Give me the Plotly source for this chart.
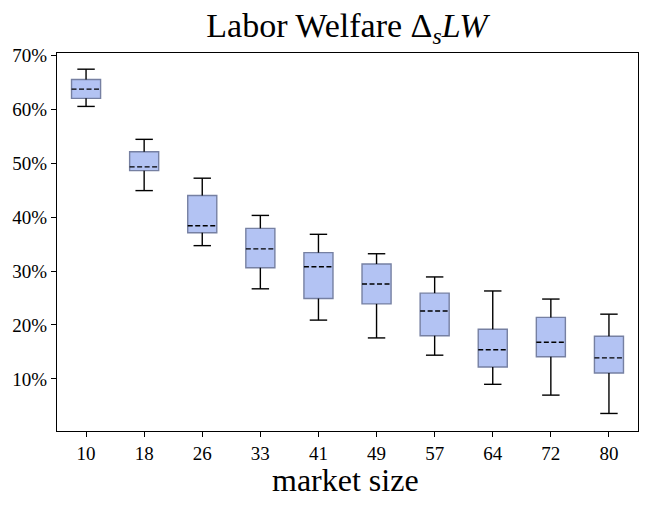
import plotly.graph_objects as go

# ---- data, values in percent ----
market_size = ["10", "18", "26", "33", "41", "49", "57", "64", "72", "80"]
upper_whisker = [67.4, 54.4, 47.2, 40.3, 36.8, 33.2, 28.9, 26.3, 24.8, 22.0]
q3_values = [65.5, 52.1, 44.0, 37.9, 33.4, 31.3, 25.9, 19.2, 21.4, 17.9]
median_values = [63.7, 49.3, 38.4, 34.1, 30.8, 27.6, 22.6, 15.4, 16.8, 13.9]
q1_values = [62.0, 48.6, 37.1, 30.6, 24.9, 23.9, 18.0, 12.2, 14.1, 11.1]
lower_whisker = [60.5, 44.9, 34.7, 26.7, 20.9, 17.6, 14.4, 9.0, 7.0, 3.6]
y_ticks = [10, 20, 30, 40, 50, 60, 70]
y_tick_labels = [f"{v}%" for v in y_ticks]

# ---- style ----
FONT = "Liberation Serif"
FILL = "rgb(179,195,243)"
EDGE = "rgb(118,128,162)"
BOX_WIDTH = 0.5
CAP_HALF = 0.15

pos = list(range(1, len(market_size) + 1))

fig = go.Figure()

# boxes: interquartile range drawn as floating bars
fig.add_trace(go.Bar(
    x=pos, y=[b - a for a, b in zip(q1_values, q3_values)], base=q1_values,
    width=BOX_WIDTH,
    marker=dict(color=FILL, line=dict(color=EDGE, width=1.4)),
    showlegend=False, hoverinfo="skip",
))

# whiskers and caps
wx, wy = [], []
for p, lo, a, b, hi in zip(pos, lower_whisker, q1_values, q3_values, upper_whisker):
    wx += [p, p, None, p - CAP_HALF, p + CAP_HALF, None]
    wy += [b, hi, None, hi, hi, None]
    wx += [p, p, None, p - CAP_HALF, p + CAP_HALF, None]
    wy += [a, lo, None, lo, lo, None]
fig.add_trace(go.Scatter(x=wx, y=wy, mode="lines",
                         line=dict(color="black", width=1.4),
                         showlegend=False, hoverinfo="skip"))

# dashed medians
mx, my = [], []
for p, m in zip(pos, median_values):
    mx += [p - BOX_WIDTH / 2, p + BOX_WIDTH / 2, None]
    my += [m, m, None]
fig.add_trace(go.Scatter(x=mx, y=my, mode="lines",
                         line=dict(color="black", width=1.4, dash="5px,2.5px"),
                         showlegend=False, hoverinfo="skip"))

# page body has an 8px default margin; size the figure so it fits the window
fig.update_layout(
    width=632, height=489,
    margin=dict(l=49, r=2, t=45, b=66),
    paper_bgcolor="white", plot_bgcolor="white",
    font=dict(family=FONT, color="black", size=19),
    title=dict(
        text="Labor Welfare Δ<sub><i>s</i></sub><i>LW</i>",
        x=0.5364, xanchor="center", y=0.965, yanchor="middle",
        yref="container", font=dict(family=FONT, size=34, color="black"),
    ),
    xaxis=dict(
        range=[0.5, len(market_size) + 0.5],
        tickmode="array", tickvals=pos, ticktext=market_size,
        ticks="outside", ticklen=5, tickwidth=1, tickcolor="black",
        showline=True, linecolor="black", linewidth=1, mirror=True,
        showgrid=False, zeroline=False,
        tickfont=dict(family=FONT, size=19),
    ),
    yaxis=dict(
        range=[0.35, 70.4],
        tickmode="array", tickvals=y_ticks, ticktext=y_tick_labels,
        ticks="outside", ticklen=5, tickwidth=1, tickcolor="black",
        showline=True, linecolor="black", linewidth=1, mirror=True,
        showgrid=False, zeroline=False,
        tickfont=dict(family=FONT, size=19),
    ),
    annotations=[dict(
        text="market size", xref="paper", yref="paper",
        x=0.496, y=-0.129, xanchor="center", yanchor="middle",
        showarrow=False, font=dict(family=FONT, size=32, color="black"),
    )],
)

fig.write_html("out.html")
